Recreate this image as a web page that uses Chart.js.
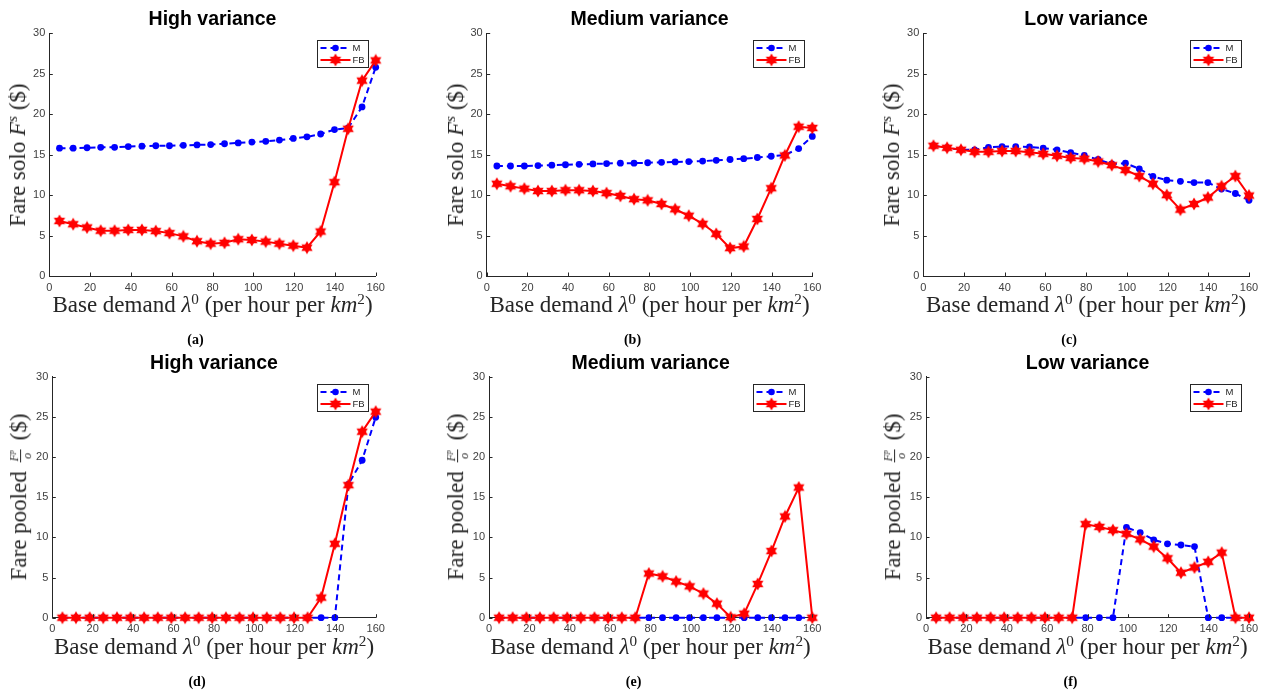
<!DOCTYPE html>
<html>
<head>
<meta charset="utf-8">
<script src="https://cdn.jsdelivr.net/npm/chart.js@4.4.1/dist/chart.umd.min.js"></script>
<style>
    body { margin: 0; background: #fff; width: 1262px; height: 692px; position: relative; overflow: hidden; }
    canvas.panel { position: absolute; }
    .title { position: absolute; font: bold 19.5px "Liberation Sans", Arial, sans-serif; color: #000; transform: translate(-50%, -50%); white-space: nowrap; }
    .xlab, .ylab { position: absolute; font: 23px "Liberation Serif", serif; color: #262626; white-space: nowrap; }
    .xlab { transform: translate(-50%, -50%); }
    .ylab { transform: translate(-50%, -50%) rotate(-90deg); }
    .sub { position: absolute; font: bold 14px "Liberation Serif", serif; color: #000; transform: translate(-50%, -50%); }
    sup { font-size: 0.66em; line-height: 0; vertical-align: 0.55em; }
    .frac { display: inline-block; vertical-align: middle; text-align: center; font-size: 12px; line-height: 1.05; margin: 0 3px; }
    .frac span { display: block; padding: 0 1px; }
    .frac .num { border-bottom: 1px solid #262626; }
</style>
</head>
<body>
<script>
// base demand values (x) shared by all panels
var demand = [5, 11.7, 18.5, 25.2, 32, 38.7, 45.4, 52.2, 58.9, 65.7, 72.4, 79.1,
              85.9, 92.6, 99.3, 106.1, 112.8, 119.6, 126.3, 133, 139.8, 146.5, 153.3, 160];
var xTicks = [0, 20, 40, 60, 80, 100, 120, 140, 160];
var yTicks = [0, 5, 10, 15, 20, 25, 30];

// fare solo F^s
var soloHighM  = [15.8, 15.8, 15.85, 15.9, 15.9, 16.0, 16.05, 16.1, 16.1, 16.15, 16.2, 16.25, 16.35, 16.45, 16.55, 16.65, 16.8, 17.0, 17.2, 17.55, 18.1, 18.3, 20.9, 25.8];
var soloHighFB = [6.8, 6.4, 6.0, 5.6, 5.6, 5.7, 5.7, 5.55, 5.3, 4.9, 4.3, 4.0, 4.1, 4.55, 4.45, 4.25, 4.0, 3.75, 3.5, 5.5, 11.6, 18.2, 24.15, 26.65];
var soloMedM   = [13.6, 13.6, 13.6, 13.65, 13.7, 13.75, 13.8, 13.85, 13.9, 13.95, 13.95, 14.0, 14.05, 14.1, 14.15, 14.2, 14.3, 14.4, 14.5, 14.65, 14.8, 14.95, 15.75, 17.25];
var soloMedFB  = [11.4, 11.1, 10.8, 10.5, 10.5, 10.6, 10.6, 10.5, 10.25, 9.9, 9.5, 9.35, 8.9, 8.25, 7.45, 6.45, 5.2, 3.45, 3.65, 7.05, 10.85, 14.9, 18.45, 18.3];
var soloLowM   = [16.1, 15.85, 15.6, 15.6, 15.9, 16.0, 16.0, 15.95, 15.8, 15.6, 15.25, 14.9, 14.4, 13.85, 13.95, 13.25, 12.3, 11.85, 11.7, 11.55, 11.55, 10.75, 10.2, 9.35];
var soloLowFB  = [16.1, 15.85, 15.6, 15.35, 15.35, 15.45, 15.45, 15.3, 15.1, 14.85, 14.6, 14.5, 14.15, 13.7, 13.1, 12.35, 11.4, 10.0, 8.2, 8.9, 9.7, 11.1, 12.35, 9.95];

// fare pooled F^p / o
var pooledHighM  = [0, 0, 0, 0, 0, 0, 0, 0, 0, 0, 0, 0, 0, 0, 0, 0, 0, 0, 0, 0, 0, 16.6, 19.6, 24.95];
var pooledHighFB = [0, 0, 0, 0, 0, 0, 0, 0, 0, 0, 0, 0, 0, 0, 0, 0, 0, 0, 0, 2.5, 9.2, 16.5, 23.15, 25.65];
var pooledMedM   = [0, 0, 0, 0, 0, 0, 0, 0, 0, 0, 0, 0, 0, 0, 0, 0, 0, 0, 0, 0, 0, 0, 0, 0];
var pooledMedFB  = [0, 0, 0, 0, 0, 0, 0, 0, 0, 0, 0, 5.5, 5.15, 4.5, 3.9, 3.0, 1.75, 0.05, 0.5, 4.2, 8.3, 12.6, 16.2, 0];
var pooledLowM   = [0, 0, 0, 0, 0, 0, 0, 0, 0, 0, 0, 0, 0, 0, 11.25, 10.6, 9.7, 9.2, 9.05, 8.85, 0, 0, 0, 0];
var pooledLowFB  = [0, 0, 0, 0, 0, 0, 0, 0, 0, 0, 0, 11.65, 11.3, 10.9, 10.45, 9.75, 8.85, 7.4, 5.6, 6.25, 6.95, 8.1, 0, 0];

var seriesNames = ['M', 'FB'];

var panels = [
    { title: 'High variance',   sub: '(a)', kind: 'solo',   m: soloHighM,   fb: soloHighFB,   area: { l: 49.3,  r: 375.7, t: 33.3,  b: 276 } },
    { title: 'Medium variance', sub: '(b)', kind: 'solo',   m: soloMedM,    fb: soloMedFB,    area: { l: 486.7, r: 812.3, t: 33.3,  b: 276 } },
    { title: 'Low variance',    sub: '(c)', kind: 'solo',   m: soloLowM,    fb: soloLowFB,    area: { l: 923.3, r: 1249,  t: 33.3,  b: 276 } },
    { title: 'High variance',   sub: '(d)', kind: 'pooled', m: pooledHighM, fb: pooledHighFB, area: { l: 52.3,  r: 375.7, t: 376.7, b: 617.7 } },
    { title: 'Medium variance', sub: '(e)', kind: 'pooled', m: pooledMedM,  fb: pooledMedFB,  area: { l: 489,   r: 812.3, t: 376.7, b: 617.7 } },
    { title: 'Low variance',    sub: '(f)', kind: 'pooled', m: pooledLowM,  fb: pooledLowFB,  area: { l: 926,   r: 1249,  t: 376.7, b: 617.7 } }
];

var AXIS_COLOR = '#262626';
var BLUE = '#0000ff';
var RED = '#ff0000';

function hexagram(size, color) {
    var c = document.createElement('canvas');
    c.width = c.height = size;
    var ctx = c.getContext('2d');
    var r = size / 2 - 0.5, cx = size / 2, cy = size / 2;
    ctx.fillStyle = color;
    [-Math.PI / 2, Math.PI / 2].forEach(function (a0) {
        ctx.beginPath();
        for (var k = 0; k < 3; k++) {
            var a = a0 + k * 2 * Math.PI / 3;
            ctx.lineTo(cx + r * Math.cos(a), cy + r * Math.sin(a));
        }
        ctx.closePath();
        ctx.fill();
    });
    return c;
}
var star = hexagram(14, RED);

function toPoints(vals) {
    return demand.map(function (x, i) { return { x: x, y: vals[i] }; });
}

// inward tick marks, MATLAB style
var inwardTicks = {
    id: 'inwardTicks',
    afterDraw: function (chart) {
        var ctx = chart.ctx, a = chart.chartArea;
        var xs = chart.scales.x, ys = chart.scales.y;
        ctx.save();
        ctx.strokeStyle = AXIS_COLOR;
        ctx.lineWidth = 1;
        ctx.beginPath();
        xs.ticks.forEach(function (t) {
            var px = Math.round(xs.getPixelForValue(t.value)) + 0.5;
            ctx.moveTo(px, a.bottom);
            ctx.lineTo(px, a.bottom - 3.5);
        });
        ys.ticks.forEach(function (t) {
            var py = Math.round(ys.getPixelForValue(t.value)) + 0.5;
            ctx.moveTo(a.left, py);
            ctx.lineTo(a.left + 3.5, py);
        });
        ctx.stroke();
        ctx.restore();
    }
};

// legend box inside the top right corner
var boxLegend = {
    id: 'boxLegend',
    afterDraw: function (chart) {
        var ctx = chart.ctx, a = chart.chartArea;
        var w = 51, h = 27;
        var x0 = Math.round(a.right - 8 - w) + 0.5, y0 = Math.round(a.top + 7) + 0.5;
        ctx.save();
        ctx.fillStyle = '#fff';
        ctx.fillRect(x0, y0, w, h);
        ctx.strokeStyle = AXIS_COLOR;
        ctx.lineWidth = 1;
        ctx.strokeRect(x0, y0, w, h);

        var rows = [y0 + 7.5, y0 + 19.5];
        // M
        ctx.strokeStyle = BLUE;
        ctx.lineWidth = 2;
        ctx.setLineDash([6, 4]);
        ctx.beginPath();
        ctx.moveTo(x0 + 3, rows[0]);
        ctx.lineTo(x0 + 33, rows[0]);
        ctx.stroke();
        ctx.setLineDash([]);
        ctx.fillStyle = BLUE;
        ctx.beginPath();
        ctx.arc(x0 + 18, rows[0], 3.3, 0, Math.PI * 2);
        ctx.fill();
        // FB
        ctx.strokeStyle = RED;
        ctx.beginPath();
        ctx.moveTo(x0 + 3, rows[1]);
        ctx.lineTo(x0 + 33, rows[1]);
        ctx.stroke();
        ctx.drawImage(star, x0 + 18 - star.width / 2, rows[1] - star.height / 2);

        ctx.fillStyle = AXIS_COLOR;
        ctx.font = '9.5px "Liberation Sans", Arial, sans-serif';
        ctx.textBaseline = 'middle';
        ctx.fillText(seriesNames[0], x0 + 35, rows[0] + 0.5);
        ctx.fillText(seriesNames[1], x0 + 35, rows[1] + 0.5);
        ctx.restore();
    }
};

function addText(cls, html, x, y) {
    var d = document.createElement('div');
    d.className = cls;
    d.innerHTML = html;
    d.style.left = x + 'px';
    d.style.top = y + 'px';
    document.body.appendChild(d);
}

var Y_AXIS_W = 30, X_AXIS_H = 20;
var tickFont = { family: '"Liberation Sans", Arial, sans-serif', size: 11 };

panels.forEach(function (p) {
    var a = p.area;
    var cv = document.createElement('canvas');
    cv.className = 'panel';
    var left = Math.round(a.l) - 40, top = Math.round(a.t) - 12;
    var width = Math.round(a.r - a.l) + 60, height = Math.round(a.b - a.t) + 36;
    cv.width = width; cv.height = height;
    cv.style.left = left + 'px';
    cv.style.top = top + 'px';
    document.body.appendChild(cv);

    new Chart(cv, {
        type: 'line',
        data: {
            datasets: [
                {
                    label: seriesNames[0], data: toPoints(p.m), order: 2,
                    borderColor: BLUE, borderWidth: 2, borderDash: [6, 4],
                    pointRadius: 3.4, pointBackgroundColor: BLUE, pointBorderWidth: 0,
                    tension: 0, clip: false
                },
                {
                    label: seriesNames[1], data: toPoints(p.fb), order: 1,
                    borderColor: RED, borderWidth: 2,
                    pointStyle: star, pointRadius: 7,
                    tension: 0, clip: false
                }
            ]
        },
        options: {
            responsive: false,
            animation: false,
            devicePixelRatio: 1,
            layout: {
                padding: {
                    left: a.l - left - Y_AXIS_W,
                    right: left + width - a.r,
                    top: a.t - top,
                    bottom: top + height - a.b - X_AXIS_H
                }
            },
            plugins: { legend: { display: false }, tooltip: { enabled: false }, title: { display: false } },
            scales: {
                x: {
                    type: 'linear', min: 0, max: 160,
                    afterBuildTicks: function (s) { s.ticks = xTicks.map(function (v) { return { value: v }; }); },
                    afterFit: function (s) { s.height = X_AXIS_H; },
                    grid: { display: false, drawTicks: false },
                    border: { color: AXIS_COLOR, width: 1 },
                    ticks: { color: '#404040', padding: 5, maxRotation: 0, font: tickFont }
                },
                y: {
                    type: 'linear', min: 0, max: 30,
                    afterBuildTicks: function (s) { s.ticks = yTicks.map(function (v) { return { value: v }; }); },
                    afterFit: function (s) { s.width = Y_AXIS_W; },
                    grid: { display: false, drawTicks: false },
                    border: { color: AXIS_COLOR, width: 1 },
                    ticks: { color: '#404040', padding: 4, font: tickFont }
                }
            }
        },
        plugins: [inwardTicks, boxLegend]
    });

    var cx = (a.l + a.r) / 2, cy = (a.t + a.b) / 2;
    addText('title', p.title, cx, a.t - 15);
    addText('xlab', 'Base demand <i>λ</i><sup>0</sup> (per hour per <i>km</i><sup>2</sup>)', cx, a.b + 29);
    if (p.kind === 'solo') {
        addText('ylab', 'Fare solo <i>F</i><sup><i>s</i></sup> ($)', a.l - 31, cy);
    } else {
        addText('ylab', 'Fare pooled <span class="frac"><span class="num"><i>F</i><sup><i>p</i></sup></span><span><i>o</i></span></span> ($)', a.l - 32, cy);
    }
    addText('sub', p.sub, cx - 17, a.b + 64);
});
</script>
</body>
</html>
